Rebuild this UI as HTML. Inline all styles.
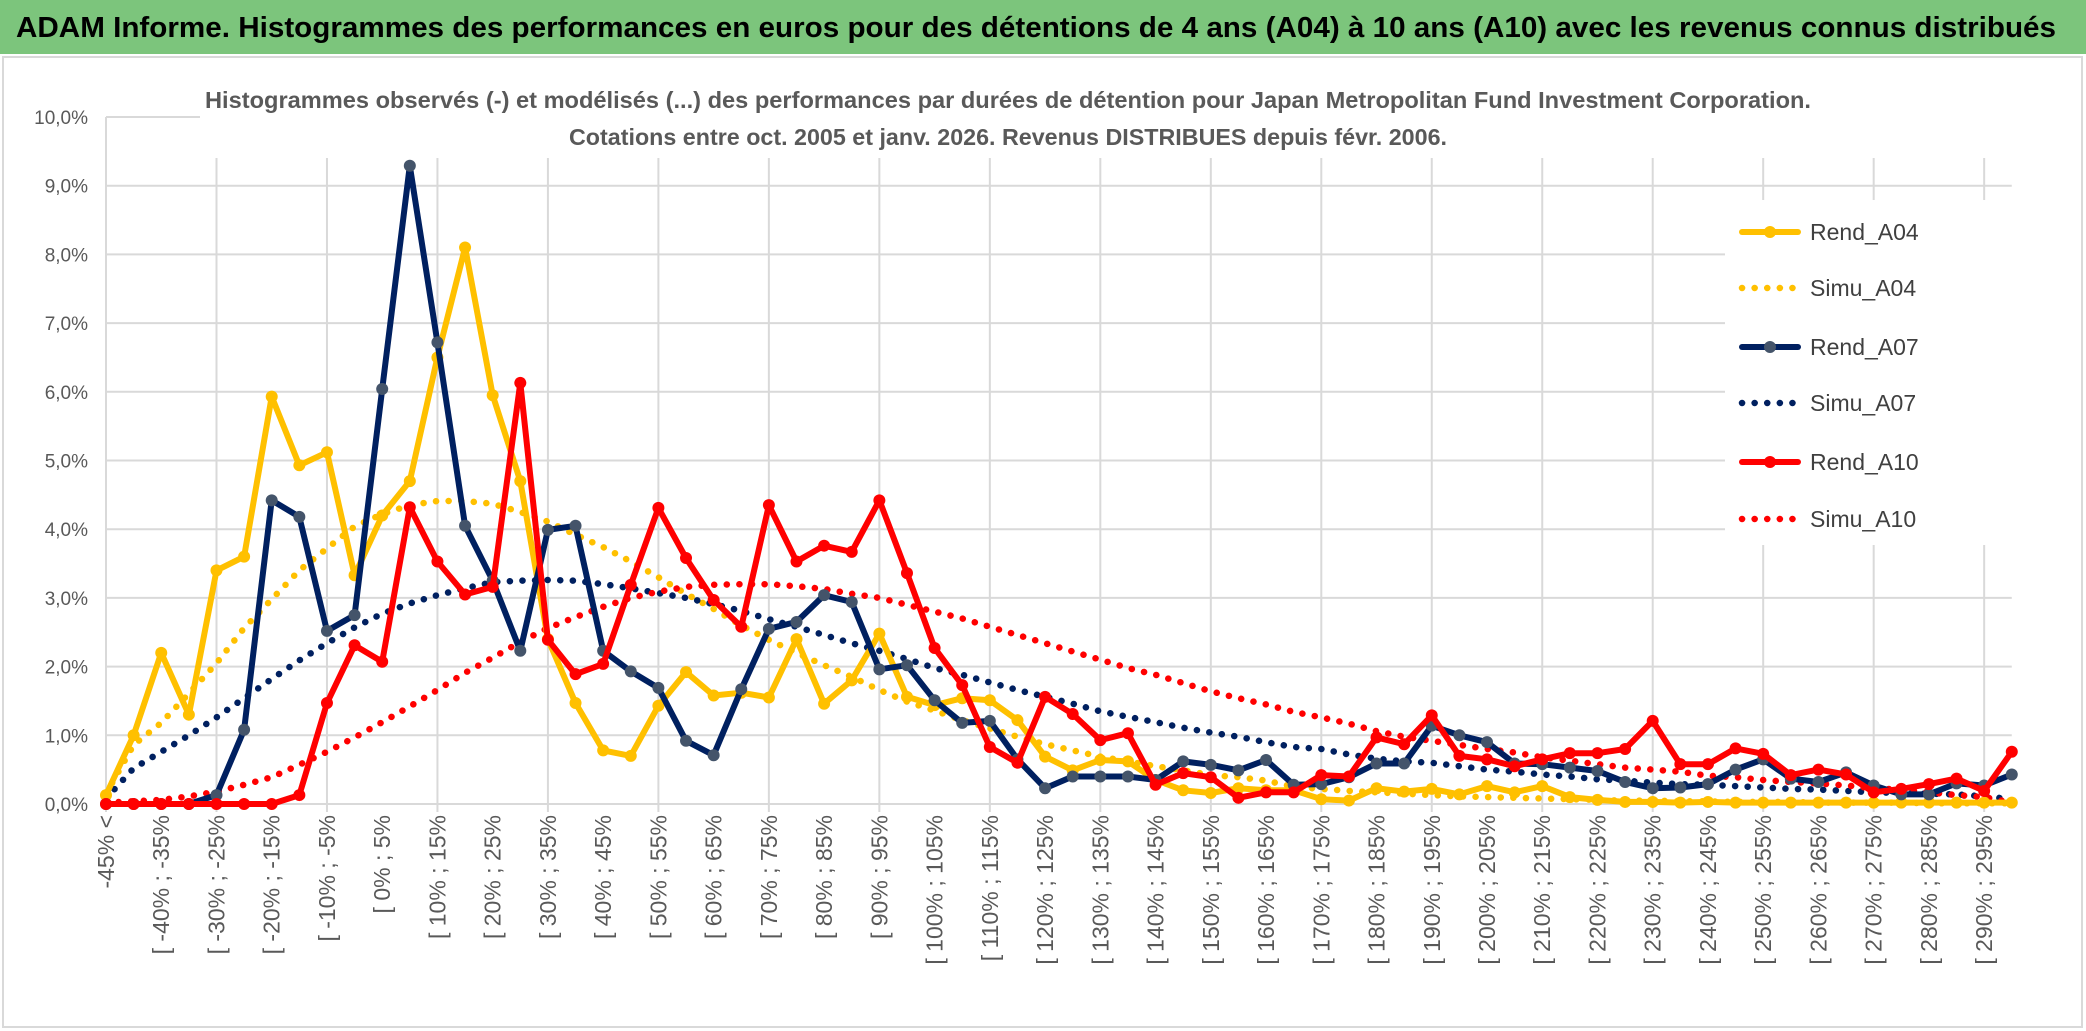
<!DOCTYPE html>
<html><head><meta charset="utf-8"><style>
html,body{margin:0;padding:0;background:#fff;}
svg{display:block;font-family:"Liberation Sans",sans-serif;}
</style></head><body>
<svg id="chart" width="2086" height="1031" viewBox="0 0 2086 1031">
<rect x="0" y="0" width="2086" height="1031" fill="#fff"/>
<rect x="0" y="0" width="2086" height="54" fill="#7cc57c"/>
<text x="16" y="37" font-size="29" font-weight="bold" fill="#000" textLength="2040" lengthAdjust="spacingAndGlyphs">ADAM Informe. Histogrammes des performances en euros pour des détentions de 4 ans (A04) à 10 ans (A10) avec les revenus connus distribués</text>
<rect x="3" y="57" width="2079" height="970" fill="none" stroke="#d9d9d9" stroke-width="2"/>
<g id="grid"></g>
<rect x="200" y="60" width="1830" height="98" fill="#fff"/>
<text x="1008" y="108" font-size="23" font-weight="bold" fill="#595959" text-anchor="middle" textLength="1606" lengthAdjust="spacingAndGlyphs">Histogrammes observés (-) et modélisés (...) des performances par durées de détention pour Japan Metropolitan Fund Investment Corporation.</text>
<text x="1008" y="145" font-size="23" font-weight="bold" fill="#595959" text-anchor="middle" textLength="878" lengthAdjust="spacingAndGlyphs">Cotations entre oct. 2005 et janv. 2026. Revenus DISTRIBUES depuis févr. 2006.</text>
<g id="yaxis"></g>
<g id="xaxis"></g>
<g id="series"></g>
<g id="legend"></g>
</svg>
<script>
const categoryStarts = [];
for (let v = -45; v <= 295; v += 5) categoryStarts.push(v);
const categories = ["-45% <"].concat(categoryStarts.map(v => "[ " + v + "% ; " + (v + 5) + "%"));
const yTicks = [0,1,2,3,4,5,6,7,8,9,10];
const yTickLabels = ["0,0%","1,0%","2,0%","3,0%","4,0%","5,0%","6,0%","7,0%","8,0%","9,0%","10,0%"];
const seriesNames = ["Rend_A04","Simu_A04","Rend_A07","Simu_A07","Rend_A10","Simu_A10"];
const rendA04 = [0.13,1.0,2.2,1.3,3.4,3.6,5.93,4.93,5.12,3.33,4.2,4.7,6.5,8.1,5.95,4.7,2.4,1.47,0.78,0.7,1.43,1.92,1.58,1.62,1.55,2.4,1.46,1.8,2.48,1.56,1.44,1.54,1.51,1.22,0.69,0.49,0.64,0.62,0.35,0.2,0.16,0.23,0.2,0.2,0.07,0.05,0.23,0.18,0.22,0.14,0.26,0.17,0.26,0.1,0.06,0.03,0.03,0.02,0.03,0.02,0.02,0.02,0.02,0.02,0.02,0.02,0.02,0.02,0.02,0.02];
const simuA04 = [0.15,0.86,1.18,1.61,2.05,2.56,2.98,3.4,3.72,4.04,4.22,4.35,4.41,4.41,4.37,4.25,4.11,3.92,3.74,3.53,3.3,3.06,2.84,2.6,2.39,2.2,2.02,1.85,1.66,1.49,1.36,1.22,1.1,0.98,0.87,0.78,0.69,0.62,0.55,0.49,0.42,0.39,0.34,0.25,0.22,0.19,0.17,0.15,0.13,0.11,0.1,0.09,0.08,0.07,0.06,0.05,0.05,0.04,0.04,0.03,0.03,0.03,0.02,0.02,0.02,0.02,0.01,0.01,0.01,0.01];
const rendA07 = [0,0,0,0,0.13,1.08,4.42,4.18,2.52,2.75,6.04,9.29,6.72,4.05,3.25,2.23,3.99,4.05,2.23,1.93,1.69,0.92,0.71,1.67,2.55,2.65,3.04,2.94,1.96,2.02,1.51,1.18,1.21,0.65,0.23,0.4,0.4,0.4,0.35,0.62,0.57,0.49,0.64,0.28,0.29,0.39,0.59,0.59,1.14,1.0,0.9,0.59,0.58,0.53,0.48,0.32,0.23,0.24,0.29,0.5,0.65,0.37,0.32,0.46,0.27,0.14,0.14,0.3,0.27,0.43];
const simuA07 = [0.08,0.52,0.76,1.0,1.26,1.54,1.82,2.09,2.34,2.57,2.77,2.92,3.04,3.14,3.23,3.25,3.26,3.25,3.2,3.14,3.07,3.0,2.91,2.81,2.69,2.58,2.46,2.34,2.23,2.11,1.98,1.88,1.77,1.66,1.56,1.46,1.35,1.27,1.19,1.11,1.04,0.98,0.9,0.83,0.8,0.72,0.66,0.62,0.6,0.55,0.5,0.47,0.43,0.4,0.36,0.34,0.31,0.29,0.28,0.26,0.24,0.22,0.21,0.19,0.17,0.16,0.15,0.14,0.11,0.07];
const rendA10 = [0,0,0,0,0,0,0,0.13,1.47,2.31,2.07,4.32,3.53,3.05,3.16,6.13,2.39,1.89,2.04,3.19,4.31,3.58,2.97,2.58,4.35,3.53,3.76,3.67,4.42,3.36,2.27,1.73,0.83,0.6,1.56,1.31,0.93,1.03,0.28,0.45,0.39,0.09,0.17,0.17,0.42,0.4,0.97,0.87,1.29,0.7,0.65,0.55,0.65,0.74,0.74,0.8,1.21,0.58,0.58,0.81,0.73,0.42,0.5,0.43,0.17,0.22,0.29,0.37,0.19,0.76];
const simuA10 = [0.02,0.04,0.06,0.11,0.18,0.28,0.39,0.57,0.76,0.97,1.19,1.42,1.66,1.91,2.13,2.36,2.56,2.72,2.87,3.0,3.09,3.16,3.19,3.2,3.2,3.17,3.13,3.06,3.0,2.9,2.8,2.7,2.58,2.46,2.34,2.22,2.1,1.98,1.88,1.76,1.64,1.54,1.45,1.34,1.26,1.17,1.06,0.98,0.92,0.86,0.8,0.75,0.68,0.63,0.58,0.53,0.5,0.47,0.41,0.39,0.35,0.32,0.3,0.27,0.23,0.21,0.17,0.13,0.1,0.02];

const NS = "http://www.w3.org/2000/svg";
const X0 = 106, DX = 27.62, Y0 = 804, PXPCT = 68.7;
function xPos(i){ return X0 + i * DX; }
function yPos(v){ return Y0 - v * PXPCT; }
function mk(tag, attrs, parent){ const e = document.createElementNS(NS, tag); for (const k in attrs) e.setAttribute(k, attrs[k]); parent.appendChild(e); return e; }

const grid = document.getElementById('grid');
const xRight = xPos(categories.length - 1);
yTicks.forEach(t => {
  const l = mk('line', {x1: X0, x2: xRight, y1: yPos(t), y2: yPos(t), stroke: '#d9d9d9', 'stroke-width': 2}, grid);
  
  
});
for (let i = 0; i < categories.length; i += 4) {
  const l = mk('line', {x1: xPos(i), x2: xPos(i), y1: yPos(10), y2: Y0 + 8, stroke: '#d9d9d9', 'stroke-width': 2}, grid);
  
  
}

const yaxis = document.getElementById('yaxis');
yTicks.forEach((t, k) => {
  const tx = mk('text', {x: 88, y: yPos(t) + 7, 'font-size': 19, fill: '#595959', 'text-anchor': 'end'}, yaxis);
  tx.textContent = yTickLabels[k];
  
  
});

const xaxis = document.getElementById('xaxis');
categories.forEach((c, i) => {
  if (i % 2 !== 0) return;
  const x = xPos(i) + 8, y = 815;
  const tx = mk('text', {x: x, y: y, 'font-size': 23, fill: '#595959', 'text-anchor': 'end', transform: 'rotate(-90 ' + x + ' ' + y + ')'}, xaxis);
  tx.textContent = c;
  
  
});

const seriesData = [rendA04, simuA04, rendA07, simuA07, rendA10, simuA10];
const colors = ['#FFC000','#FFC000','#002060','#002060','#FF0000','#FF0000'];
const markerColors = ['#FFC000',null,'#44546A',null,'#FF0000',null];
const sg = document.getElementById('series');
const order = [1,3,5,0,2,4];
order.forEach(s => {
  const d = seriesData[s];
  const pts = d.map((v, i) => xPos(i).toFixed(1) + ',' + yPos(v).toFixed(1)).join(' ');
  const dotted = s % 2 === 1;
  const g = mk('g', {}, sg);
  
  
  const pl = mk('polyline', {points: pts, fill: 'none', stroke: colors[s], 'stroke-width': dotted ? 6.5 : 6, 'stroke-linejoin': 'round', 'stroke-linecap': 'round', 'stroke-dasharray': dotted ? '0.1 12.5' : 'none'}, g);
  
  
  if (!dotted) {
    d.forEach((v, i) => {
      const c = mk('circle', {cx: xPos(i), cy: yPos(v), r: 6, fill: markerColors[s]}, g);
      
      
    });
  }
});

const lg = document.getElementById('legend');
const bg = mk('rect', {x: 1725, y: 200, width: 300, height: 345, fill: '#fff'}, lg);


const legendY = [232, 288, 347, 403, 462, 519];
seriesNames.forEach((n, s) => {
  const y = legendY[s];
  const dotted = s % 2 === 1;
  const g = mk('g', {}, lg);
  
  
  const l = mk('line', {x1: 1742, x2: 1798, y1: y, y2: y, stroke: colors[s], 'stroke-width': dotted ? 6.5 : 6, 'stroke-linecap': 'round', 'stroke-dasharray': dotted ? '0.1 12.5' : 'none'}, g);
  
  
  if (!dotted) {
    const c = mk('circle', {cx: 1770, cy: y, r: 6, fill: markerColors[s]}, g);
    
    
  }
  const t = mk('text', {x: 1810, y: y + 8, 'font-size': 23, fill: '#404040'}, g);
  t.textContent = n;
  
  
});
</script>
</body></html>
